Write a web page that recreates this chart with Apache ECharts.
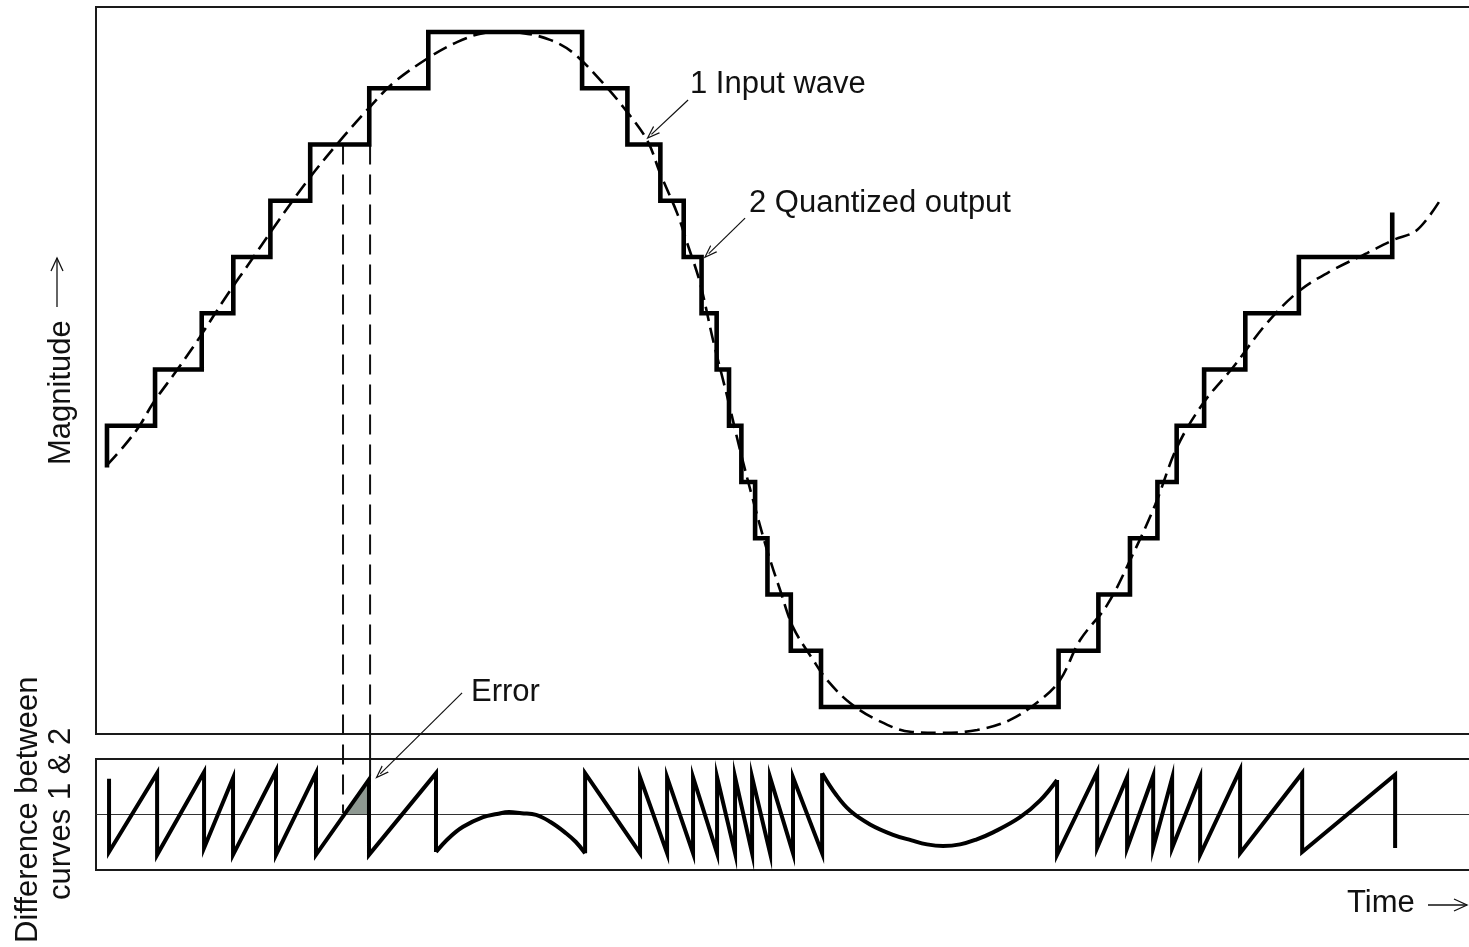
<!DOCTYPE html>
<html>
<head>
<meta charset="utf-8">
<script src="https://cdn.jsdelivr.net/npm/echarts@6.0.0/dist/echarts.min.js"></script>
<style>
html,body{margin:0;padding:0;background:#fff;}
#chart{width:1469px;height:947px;}
</style>
</head>
<body>
<div id="chart"></div>
<script>
// ---- Input wave (curve 1), time units 0..100, magnitude in quantization levels ----
const inputTime = [0.80, 2.11, 3.20, 4.15, 5.90, 7.57, 9.54, 11.22, 12.82, 15.44, 17.99, 19.96, 21.63, 24.33, 26.29, 28.19, 29.42, 31.10, 33.07, 34.74, 36.71, 38.38, 40.13, 41.08, 42.32, 43.05, 43.99, 44.94, 46.03, 46.90, 47.85, 48.87, 49.82, 50.76, 52.22, 53.24, 54.92, 56.88, 59.29, 61.69, 64.17, 66.57, 68.75, 70.21, 71.67, 73.63, 75.31, 77.13, 78.73, 80.63, 82.81, 85.29, 87.69, 90.09, 92.57, 94.46, 96.21, 97.89];
const inputMagnitude = [4.30, 4.66, 5.01, 5.40, 5.99, 6.58, 7.32, 7.91, 8.48, 9.37, 10.13, 10.67, 11.09, 11.56, 11.82, 11.98, 12.00, 11.98, 11.86, 11.63, 11.15, 10.67, 10.08, 9.49, 8.78, 8.25, 7.54, 6.52, 5.46, 4.57, 3.68, 2.79, 2.08, 1.42, 0.84, 0.48, 0.07, -0.23, -0.44, -0.46, -0.41, -0.23, 0.12, 0.48, 1.19, 1.81, 2.61, 3.59, 4.62, 5.40, 6.04, 6.83, 7.41, 7.77, 8.07, 8.30, 8.48, 9.01];

// ---- Quantized output (curve 2): level held until each step time ----
const quantStartLevel = 4.3;
const quantStepTime = [0.8, 4.3, 7.7, 10.0, 12.7, 15.6, 19.9, 24.2, 35.4, 38.7, 41.1, 42.8, 44.1, 45.2, 46.1, 47.0, 48.0, 48.9, 50.6, 52.8, 70.1, 73.0, 75.3, 77.3, 78.7, 80.7, 83.7, 87.6, 94.4];
const quantStepLevel = [5, 6, 7, 8, 9, 10, 11, 12, 11, 10, 9, 8, 7, 6, 5, 4, 3, 2, 1, 0, 1, 2, 3, 4, 5, 6, 7, 8, 8.75];

// ---- Difference between curves 1 & 2 (error), in level units ----
const errLeftTime  = [0.95, 0.95, 4.45, 4.45, 7.87, 7.87, 9.98, 9.98, 13.11, 13.11, 16.02, 16.02, 19.88, 19.88, 24.76, 24.76];
const errLeftValue = [0.44, -0.475, 0.51, -0.51, 0.525, -0.425, 0.45, -0.51, 0.54, -0.51, 0.51, -0.51, 0.43, -0.51, 0.51, -0.475];
const humpTime  = [24.76, 25.70, 26.73, 28.19, 29.20, 30.08, 31.00, 32.05, 33.10, 34.23, 34.95, 35.62];
const humpValue = [-0.475, -0.30, -0.16, -0.04, 0.00, 0.025, 0.01, -0.01, -0.10, -0.24, -0.35, -0.49];
const errMidTime  = [35.62, 35.62, 39.62, 39.62, 41.59, 41.59, 43.48, 43.48, 45.23, 45.23, 46.54, 46.54, 47.78, 47.78, 49.09, 49.09, 50.76, 50.76, 52.88, 52.88];
const errMidValue = [-0.49, 0.51, -0.49, 0.46, -0.49, 0.46, -0.49, 0.46, -0.49, 0.46, -0.49, 0.46, -0.49, 0.46, -0.49, 0.46, -0.49, 0.46, -0.49, 0.51];
const troughTime  = [52.88, 53.90, 54.92, 56.37, 58.05, 59.40, 60.52, 61.69, 62.93, 64.10, 65.33, 67.30, 68.76, 69.99];
const troughValue = [0.51, 0.24, 0.04, -0.13, -0.26, -0.33, -0.38, -0.40, -0.38, -0.32, -0.23, -0.04, 0.17, 0.425];
const errRightTime  = [69.99, 69.99, 72.91, 72.91, 75.09, 75.09, 76.99, 76.99, 78.37, 78.37, 80.41, 80.41, 83.32, 83.32, 87.84, 87.84, 94.61, 94.61];
const errRightValue = [0.425, -0.51, 0.525, -0.425, 0.46, -0.425, 0.475, -0.425, 0.45, -0.425, 0.46, -0.51, 0.55, -0.49, 0.51, -0.475, 0.49, -0.425];

// ---- Guide lines marking one error interval (overlay uses top-panel level units) ----
const guideTime = [17.99, 19.96];
const guideTopLevel = 10;
const guideLeftBottom = -1.884;   // reaches the zero line of the lower panel
const guideRightDashEnd = -0.48;  // lower edge of the upper panel
const guideRightSolidEnd = -1.23; // meets the error curve
const shadeTime = [18.06, 19.80];
const shadeValue = [0, 0.43];

// ---- Annotation arrows [fromTime, fromLevel, toTime, toLevel] ----
const arrowInput = [43.12, 10.79, 40.45, 10.18];
const arrowQuant = [47.27, 8.69, 44.62, 8.06];
const arrowError = [26.66, 0.25, 20.70, -1.19];

// ---- Labels ----
const labelInput = '1 Input wave';
const labelQuant = '2 Quantized output';
const labelError = 'Error';
const labelMagnitude = 'Magnitude';
const labelDiff1 = 'Difference between';
const labelDiff2 = 'curves 1 & 2';
const labelTime = 'Time';

const zip = (a, b) => a.map((v, i) => [v, b[i]]);
const inputData = zip(inputTime, inputMagnitude);
const quantData = [[quantStepTime[0], quantStartLevel]];
let prevLevel = quantStartLevel;
quantStepTime.forEach((t, i) => {
  quantData.push([t, prevLevel]);
  quantData.push([t, quantStepLevel[i]]);
  prevLevel = quantStepLevel[i];
});
const arrowLine = a => [{coord: [a[0], a[1]]}, {coord: [a[2], a[3]]}];

const FONT = '"Liberation Sans", Arial, Helvetica, sans-serif';
const arrowHead = 'path://M0,14 L6,0 L12,14 L10.4,14 L6,3.6 L1.6,14 Z';
const ink = '#111';
const errLine = {color: '#000', width: 4, join: 'miter'};

function errSeries(name, data, smooth) {
  return {name: name, type: 'line', xAxisIndex: 1, yAxisIndex: 1, data: data,
          smooth: smooth, showSymbol: false, silent: true, lineStyle: errLine};
}
function txt(text, x, y, rot) {
  return {type: 'text', x: x, y: y, rotation: rot || 0, silent: true,
          style: {text: text, font: '31px ' + FONT, fill: ink, align: 'left', verticalAlign: 'middle',
                  textAlign: 'left', textVerticalAlign: 'middle'}};
}
function pl(points) {
  return {type: 'polyline', silent: true, shape: {points: points}, style: {stroke: ink, lineWidth: 1.3, fill: null}};
}

const chart = echarts.init(document.getElementById('chart'), null, {renderer: 'canvas'});
chart.setOption({
  animation: false,
  backgroundColor: '#fff',
  textStyle: {fontFamily: FONT},
  grid: [
    {left: 96, top: 7, width: 1380, height: 727, show: true, borderColor: '#1a1a1a', borderWidth: 2,
     backgroundColor: 'transparent', outerBoundsMode: 'none', containLabel: false},
    {left: 96, top: 759, width: 1380, height: 111, show: true, borderColor: '#1a1a1a', borderWidth: 2,
     backgroundColor: 'transparent', outerBoundsMode: 'none', containLabel: false},
    {left: 96, top: 7, width: 1380, height: 863, show: false, outerBoundsMode: 'none', containLabel: false}
  ],
  xAxis: [
    {gridIndex: 0, type: 'value', min: 0, max: 100.5, show: false},
    {gridIndex: 1, type: 'value', min: 0, max: 100.5, show: true,
     axisLine: {show: true, onZero: true, lineStyle: {color: '#333', width: 1}},
     axisTick: {show: false}, axisLabel: {show: false}, splitLine: {show: false}},
    {gridIndex: 2, type: 'value', min: 0, max: 100.5, show: false}
  ],
  yAxis: [
    {gridIndex: 0, type: 'value', min: -0.48, max: 12.444, show: false},
    {gridIndex: 1, type: 'value', min: -0.7, max: 0.6875, show: false},
    {gridIndex: 2, type: 'value', min: -2.898, max: 12.444, show: false}
  ],
  series: [
    {
      name: 'Guide left', type: 'line', xAxisIndex: 2, yAxisIndex: 2,
      data: [[guideTime[0], guideTopLevel], [guideTime[0], guideLeftBottom]],
      showSymbol: false, silent: true,
      lineStyle: {color: ink, width: 2, type: [20, 10]}
    },
    {
      name: 'Guide right', type: 'line', xAxisIndex: 2, yAxisIndex: 2,
      data: [[guideTime[1], guideTopLevel], [guideTime[1], guideRightDashEnd]],
      showSymbol: false, silent: true,
      lineStyle: {color: ink, width: 2, type: [20, 10]}
    },
    {
      name: 'Guide right gap', type: 'line', xAxisIndex: 2, yAxisIndex: 2,
      data: [[guideTime[1], guideRightDashEnd], [guideTime[1], guideRightSolidEnd]],
      showSymbol: false, silent: true,
      lineStyle: {color: ink, width: 2},
      markLine: {
        silent: true, animation: false,
        symbol: ['none', arrowHead], symbolSize: [10, 14],
        lineStyle: {color: ink, width: 1.2, type: 'solid'},
        label: {show: false},
        data: [arrowLine(arrowError)]
      }
    },
    {
      name: 'Input wave', type: 'line', xAxisIndex: 0, yAxisIndex: 0,
      data: inputData, smooth: 0.35, showSymbol: false, silent: true, clip: false,
      lineStyle: {color: '#000', width: 2.6, type: [15, 7]},
      markLine: {
        silent: true, animation: false,
        symbol: ['none', arrowHead], symbolSize: [10, 14],
        lineStyle: {color: ink, width: 1.2, type: 'solid'},
        label: {show: false},
        data: [arrowLine(arrowInput), arrowLine(arrowQuant)]
      }
    },
    {
      name: 'Quantized output', type: 'line', xAxisIndex: 0, yAxisIndex: 0,
      data: quantData, showSymbol: false, silent: true,
      lineStyle: {color: '#000', width: 4.6, join: 'miter', cap: 'square'}
    },
    {
      name: 'Error shade', type: 'line', xAxisIndex: 1, yAxisIndex: 1,
      data: zip(shadeTime, shadeValue), showSymbol: false, silent: true,
      lineStyle: {width: 0, opacity: 0},
      areaStyle: {color: '#8e9891', opacity: 1}
    },
    errSeries('Difference A', zip(errLeftTime, errLeftValue), false),
    errSeries('Difference B', zip(humpTime, humpValue), 0.4),
    errSeries('Difference C', zip(errMidTime, errMidValue), false),
    errSeries('Difference D', zip(troughTime, troughValue), 0.4),
    errSeries('Difference E', zip(errRightTime, errRightValue), false)
  ],
  graphic: [
    txt(labelInput, 690, 84),
    txt(labelQuant, 749, 203),
    txt(labelError, 471, 692),
    txt(labelTime, 1347, 903),
    pl([[1428, 905], [1467, 905]]),
    pl([[1454, 899], [1467, 905], [1454, 911]]),
    txt(labelMagnitude, 61, 465, Math.PI / 2),
    pl([[57, 307], [57, 258]]),
    pl([[51, 271], [57, 258], [63, 271]]),
    txt(labelDiff1, 28, 943, Math.PI / 2),
    txt(labelDiff2, 61, 900, Math.PI / 2)
  ]
});
</script>
</body>
</html>
